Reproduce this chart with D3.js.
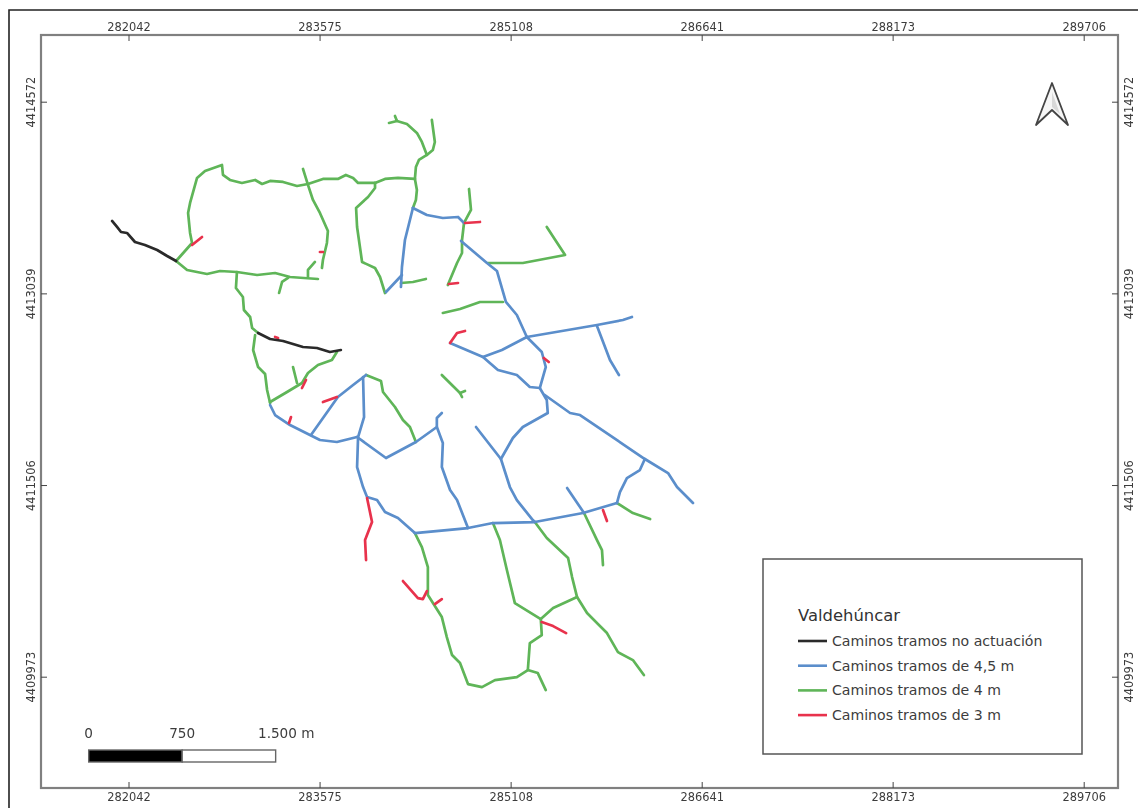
<!DOCTYPE html>
<html lang="es">
<head>
    <meta charset="utf-8">
    <title>Valdehúncar</title>
    <script src="https://d3js.org/d3.v7.min.js"></script>
    <style>
        html, body { margin: 0; padding: 0; background: #fff; overflow: hidden; }
        svg { display: block; filter: blur(0.6px); }
        text { font-family: "DejaVu Sans", sans-serif; }
    </style>
</head>
<body>
<script>
    // grid ticks of the map, metres
    var eastTicks = [282042, 283575, 285108, 286641, 288173, 289706];
    var northTicks = [4414572, 4413039, 4411506, 4409973];

    // road coordinates are [east, north] in metres from this origin
    var E0 = 280000, N0 = 4400000;

    var tramosNoActuacion = [
        [[1910,13618],[1950,13570],[1982,13530],[2030,13522],[2094,13450],[2174,13426],[2272,13386],[2352,13338],[2424,13298]],
        [[3082,12722],[3178,12674],[3282,12658],[3442,12610],[3554,12602],[3658,12570],[3746,12586]]
    ];

    var tramos45 = [
        [[3178,12146],[3218,12066],[3338,11986],[3498,11906],[3578,11866],[3714,11850],[3876,11890]],
        [[3506,11906],[3722,12210],[3844,12306],[3948,12386]],
        [[3924,12370],[3932,12050],[3884,11890],[3876,11650],[3924,11490],[3956,11410],[4036,11386],[4100,11290],[4204,11242],[4340,11122]],
        [[3876,11890],[4108,11722],[4348,11850],[4516,11970]],
        [[4556,12082],[4516,12042],[4516,11970],[4564,11842],[4556,11650],[4622,11466],[4678,11386],[4766,11162]],
        [[4324,13722],[4436,13666],[4564,13642],[4686,13650],[4734,13602]],
        [[4324,13722],[4260,13466],[4236,13250],[4228,13090]],
        [[4236,13186],[4108,13050]],
        [[4710,13458],[4918,13282],[4998,13218],[5070,12970],[5158,12866],[5238,12690]],
        [[4622,12642],[4886,12530],[5038,12586],[5238,12690]],
        [[5238,12690],[5801,12786],[6009,12826],[6081,12850]],
        [[5801,12778],[5905,12506],[5977,12386]],
        [[5238,12690],[5358,12570],[5390,12450],[5342,12282]],
        [[4886,12530],[5006,12426],[5158,12386],[5262,12290],[5342,12282]],
        [[5342,12282],[5398,12186],[5406,12082],[5206,11970],[5126,11882],[5030,11714]],
        [[5382,12226],[5585,12082],[5665,12066],[6185,11714],[6371,11602],[6443,11490],[6571,11362]],
        [[6185,11714],[6145,11626],[6041,11562],[5985,11450],[5961,11362]],
        [[4830,11970],[5030,11714],[5102,11490],[5158,11386],[5286,11226],[5302,11210]],
        [[5561,11482],[5697,11282]],
        [[4340,11122],[4766,11162],[4966,11202],[5302,11210],[5689,11282],[5961,11362]]
    ];

    var tramos4 = [
        [[2424,13298],[2552,13442],[2536,13522],[2520,13682],[2536,13762],[2592,13962],[2656,14018],[2792,14066],[2800,13986],[2856,13946],[2952,13922],[3058,13946],[3114,13914],[3178,13938],[3282,13930],[3394,13898],[3482,13914],[3602,13954],[3722,13954],[3786,13986],[3844,13962],[3884,13922],[4020,13922],[4100,13954],[4204,13962],[4340,13954]],
        [[4340,13954],[4348,14050],[4372,14106],[4436,14146],[4484,14186],[4500,14250],[4476,14426]],
        [[4436,14146],[4396,14250],[4356,14322],[4276,14394],[4196,14418],[4180,14458]],
        [[4132,14402],[4196,14418]],
        [[4340,13954],[4356,13866],[4348,13786],[4324,13722]],
        [[3442,14034],[3482,13906],[3522,13786],[3578,13682],[3642,13538],[3634,13442],[3602,13306],[3594,13242]],
        [[4020,13922],[4020,13882],[3964,13810],[3868,13722],[3876,13570],[3916,13290],[4020,13242],[4060,13170],[4100,13042]],
        [[2424,13298],[2512,13226],[2672,13194],[2776,13218],[2912,13210],[3074,13186],[3218,13202],[3338,13170],[3562,13154]],
        [[3482,13170],[3482,13226],[3538,13290]],
        [[3322,13162],[3274,13130],[3250,13042]],
        [[2912,13210],[2904,13082],[2960,13010],[2968,12906],[3018,12850],[3034,12762],[3082,12722]],
        [[3058,12706],[3042,12586],[3082,12450],[3138,12394],[3154,12266],[3178,12162]],
        [[3178,12170],[3314,12250],[3434,12322],[3482,12402],[3562,12466],[3674,12506],[3714,12570]],
        [[3362,12450],[3378,12386],[3394,12322]],
        [[3948,12386],[4068,12338],[4084,12250],[4180,12130],[4244,12026],[4300,11970],[4348,11850]],
        [[4228,13122],[4324,13130],[4428,13154]],
        [[4774,13874],[4790,13706],[4734,13602],[4718,13466],[4718,13362],[4678,13282],[4604,13106]],
        [[4564,12882],[4702,12914],[4862,12970],[5046,12970]],
        [[4556,12386],[4702,12242],[4718,12210]],
        [[4702,12242],[4742,12258]],
        [[4926,13282],[5206,13282],[5545,13346],[5398,13570]],
        [[5961,11362],[6089,11282],[6227,11234]],
        [[5697,11282],[5801,11066],[5841,10986],[5849,10866]],
        [[5302,11210],[5398,11082],[5569,10922],[5601,10770],[5641,10610],[5721,10482],[5881,10322],[5969,10170],[6089,10106],[6177,9986]],
        [[5641,10610],[5449,10522],[5350,10434]],
        [[4966,11202],[5022,11066],[5078,10826],[5142,10562],[5350,10434]],
        [[5350,10434],[5358,10306],[5262,10242],[5246,10026],[5158,9970],[4982,9946],[4878,9890],[4766,9914],[4702,10082],[4638,10146],[4596,10290],[4556,10450],[4444,10626],[4444,10850],[4396,11010],[4340,11122]],
        [[5246,10026],[5326,10002],[5390,9866]]
    ];

    var tramos3 = [
        [[2552,13426],[2632,13490]],
        [[3578,13370],[3602,13370]],
        [[4742,13602],[4862,13610]],
        [[4612,13114],[4686,13122]],
        [[3218,12690],[3242,12682]],
        [[3466,12346],[3434,12282]],
        [[3346,12050],[3330,12002]],
        [[3602,12170],[3714,12210]],
        [[4622,12642],[4678,12722],[4742,12738]],
        [[5374,12522],[5414,12490]],
        [[3956,11402],[3996,11210],[3940,11066],[3948,10906]],
        [[5849,11306],[5881,11218]],
        [[5358,10410],[5449,10378],[5553,10322]],
        [[4244,10738],[4364,10602],[4404,10594],[4436,10658]],
        [[4500,10554],[4556,10594]]
    ];

    var legendTitle = "Valdehúncar";
    var legendLabels = ["Caminos tramos no actuación", "Caminos tramos de 4,5 m", "Caminos tramos de 4 m", "Caminos tramos de 3 m"];
    var scaleStops = [0, 750, 1500];
    var scaleLabels = ["0", "750", "1.500 m"];

    var w = 1138, h = 808;
    var frame = {left: 41, top: 35, right: 1118, bottom: 788};
    var colors = ["#2a2a2a", "#5b8ecb", "#5fb558", "#e8324c"];
    var textColor = "#3c3c3c";
    var lineColor = "#808080";

    var x = d3.scaleLinear().domain([282042, 289706]).range([128.5, 1083.7]);
    var y = d3.scaleLinear().domain([4414572, 4409973]).range([101.7, 676.7]);

    var svg = d3.select("body").append("svg")
            .attr("width", w)
            .attr("height", h);

    // outer page border, only top and left are visible
    svg.append("path")
            .attr("d", "M9," + h + "V10H" + w)
            .attr("fill", "none")
            .attr("stroke", "#222")
            .attr("stroke-width", 1.6);

    svg.append("rect")
            .attr("x", frame.left)
            .attr("y", frame.top)
            .attr("width", frame.right - frame.left)
            .attr("height", frame.bottom - frame.top)
            .attr("fill", "none")
            .attr("stroke", lineColor)
            .attr("stroke-width", 2.2);

    function styleAxis(g, rotate) {
        g.select(".domain").remove();
        g.selectAll("line").attr("stroke", "#444").attr("stroke-width", 1);
        g.selectAll("text")
                .attr("fill", textColor)
                .attr("font-size", "11.4px")
                .attr("font-family", "'DejaVu Sans', sans-serif");
        if (rotate) {
            g.selectAll("text")
                    .attr("text-anchor", "middle")
                    .attr("dy", null)
                    .attr("x", null)
                    .attr("transform", rotate);
        }
    }

    var fmt = d3.format("d");

    svg.append("g").attr("transform", "translate(0," + frame.top + ")")
            .call(d3.axisTop(x).tickValues(eastTicks).tickFormat(fmt).tickSize(-6).tickPadding(4))
            .call(styleAxis);
    svg.append("g").attr("transform", "translate(0," + frame.bottom + ")")
            .call(d3.axisBottom(x).tickValues(eastTicks).tickFormat(fmt).tickSize(-6).tickPadding(5))
            .call(styleAxis);
    svg.append("g").attr("transform", "translate(" + frame.left + ",0)")
            .call(d3.axisLeft(y).tickValues(northTicks).tickFormat(fmt).tickSize(-6))
            .call(styleAxis, "translate(-6,0) rotate(-90)");
    svg.append("g").attr("transform", "translate(" + frame.right + ",0)")
            .call(d3.axisRight(y).tickValues(northTicks).tickFormat(fmt).tickSize(-6))
            .call(styleAxis, "translate(15,0) rotate(-90)");

    // roads
    var road = d3.line()
            .x(function (d) { return x(E0 + d[0]); })
            .y(function (d) { return y(N0 + d[1]); });

    var layers = [
        {data: tramos4, color: colors[2]},
        {data: tramos45, color: colors[1]},
        {data: tramos3, color: colors[3]},
        {data: tramosNoActuacion, color: colors[0]}
    ];

    layers.forEach(function (layer) {
        svg.append("g").selectAll("path")
                .data(layer.data)
                .enter()
                .append("path")
                .attr("d", road)
                .attr("fill", "none")
                .attr("stroke", layer.color)
                .attr("stroke-width", 2.7)
                .attr("stroke-linecap", "round")
                .attr("stroke-linejoin", "round");
    });

    // legend
    var legend = svg.append("g");
    legend.append("rect")
            .attr("x", 763)
            .attr("y", 559)
            .attr("width", 319)
            .attr("height", 195)
            .attr("fill", "#fff")
            .attr("stroke", "#555")
            .attr("stroke-width", 1.5);
    legend.append("text")
            .text(legendTitle)
            .attr("x", 798)
            .attr("y", 621)
            .attr("fill", "#333")
            .attr("font-size", "16.4px");

    var items = legend.selectAll(".item")
            .data(legendLabels)
            .enter()
            .append("g")
            .attr("class", "item")
            .attr("transform", function (d, i) { return "translate(0," + (641 + i * 24.7) + ")"; });
    items.append("line")
            .attr("x1", 798)
            .attr("x2", 827)
            .attr("stroke", function (d, i) { return colors[i]; })
            .attr("stroke-width", 2.6);
    items.append("text")
            .text(function (d) { return d; })
            .attr("x", 832)
            .attr("y", 5)
            .attr("fill", textColor)
            .attr("font-size", "14.1px");

    // scale bar
    var barX = d3.scaleLinear()
            .domain([0, 1])
            .range([88.7, 88.7 + x(eastTicks[0] + 1) - x(eastTicks[0])]);
    var barSegments = d3.pairs(scaleStops);
    svg.append("g").selectAll("rect")
            .data(barSegments)
            .enter()
            .append("rect")
            .attr("x", function (d) { return barX(d[0]); })
            .attr("y", 750)
            .attr("width", function (d) { return barX(d[1]) - barX(d[0]); })
            .attr("height", 12)
            .attr("fill", function (d, i) { return i === 0 ? "#000" : "#fff"; })
            .attr("stroke", "#666")
            .attr("stroke-width", 1.4);
    svg.append("g").selectAll("text")
            .data(scaleLabels)
            .enter()
            .append("text")
            .text(function (d) { return d; })
            .attr("x", function (d, i) { return i === 2 ? 258 : barX(scaleStops[i]); })
            .attr("y", 738)
            .attr("text-anchor", function (d, i) { return i === 2 ? "start" : "middle"; })
            .attr("fill", textColor)
            .attr("font-size", "13.6px");

    // north arrow
    svg.append("path")
            .attr("d", "M1052,83L1068,125L1052,110L1036,125Z")
            .attr("fill", "#f6f6f6")
            .attr("stroke", "#444")
            .attr("stroke-width", 1.8)
            .attr("stroke-linejoin", "round");
    svg.append("path")
            .attr("d", "M1052,92L1060,114L1052,107Z")
            .attr("fill", "#d8d8d8")
            .attr("stroke", "none");
</script>
</body>
</html>
